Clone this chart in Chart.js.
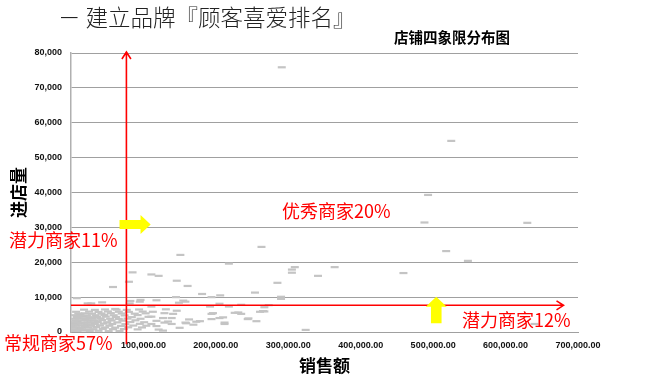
<!DOCTYPE html>
<html>
<head>
<meta charset="utf-8">
<script src="https://cdn.jsdelivr.net/npm/chart.js@4.4.0/dist/chart.umd.min.js"></script>
<style>
  html, body { margin: 0; padding: 0; background: #fff; }
  #wrap { width: 650px; height: 377px; position: relative; }
</style>
</head>
<body>
<div id="wrap"><canvas id="grafico" width="650" height="377"></canvas></div>
<script>
// 店铺 (销售额, 进店量) - sparse stores
const vendasEsparsas = [
  291000, 525000, 493000, 488000, 630000, 263000, 518000, 548000, 309000, 305000,
  305000, 364000, 341000, 285000, 459000, 254000, 290000, 290000, 640000, 273000,
  267000, 267000, 256000, 324000, 151000, 218000, 111000, 121000, 146000, 161000,
  181000, 194000, 206000, 145000, 118000, 155000, 149000, 205000, 235000, 218000,
  192000, 111000, 131000, 194000, 231000, 235000, 205000, 244000, 194000, 178000,
  158000, 169000, 212000, 127000, 85000, 80000, 58000, 8000, 23000, 43000,
  82000, 96000, 61000, 113000, 129000, 141000, 111000, 127000, 139000, 118000,
  134000, 111000, 129000, 139000, 118000, 158000, 95000, 81000, 196000, 210000,
  226000, 261000, 245000, 173000, 159000, 212000, 265000, 28000, 150000, 146000,
  163000, 121000
];
const visitasEsparsas = [
  75900, 54800, 39300, 31400, 31300, 24400, 23200, 20400, 18600, 17900,
  17000, 18600, 16100, 14100, 16900, 11300, 10100, 9500, 2300, 7700,
  7100, 5900, 3100, 600, 22100, 19600, 16500, 16100, 14700, 13200,
  10900, 10000, 10500, 10000, 9100, 9000, 8400, 8100, 7800, 7300,
  7300, 7300, 6500, 5200, 5600, 5200, 4000, 3700, 3700, 3100,
  2700, 2100, 2700, 400, 17100, 14400, 12900, 9700, 8200, 8500,
  8900, 9200, 6600, 5800, 5400, 5200, 4400, 4000, 4000, 3200,
  3000, 2300, 2700, 2300, 1700, 8700, 8700, 8200, 5400, 4200,
  5500, 5800, 3900, 2950, 2500, 2300, 6000, 8200, 1200, 6100,
  3600, 700
];

// dense cluster of small stores near the origin
const vendasCluster = [
  2000, 9000, 17000, 26000, 38000, 52000, 67000,
  4000, 12000, 21000, 31000, 44000, 58000, 73000, 92000,
  1000, 7000, 15000, 24000, 35000, 47000, 61000, 79000, 98000,
  3000, 11000, 19000, 28000, 40000, 53000, 69000, 86000, 104000,
  5000, 13000, 22000, 33000, 45000, 57000, 75000, 95000,
  2000, 9000, 18000, 27000, 37000, 50000, 64000, 82000, 101000,
  6000, 14000, 23000, 32000, 43000, 56000, 71000, 89000,
  3000, 11000, 20000, 30000, 41000, 54000, 66000, 78000, 96000,
  8000, 16000, 26000, 36000, 48000, 62000, 84000, 107000,
  4000, 13000, 22000, 34000, 46000, 59000, 74000, 92000,
  10000, 19000, 29000, 42000, 55000, 70000, 88000, 103000,
  7000, 25000, 38000, 51000, 66000, 80000, 99000,
  18000, 33000, 47000, 63000, 77000, 94000
];
const visitasCluster = [
  300, 250, 400, 300, 350, 250, 300,
  800, 850, 750, 800, 900, 800, 850, 750,
  1300, 1350, 1250, 1300, 1400, 1300, 1250, 1350, 1300,
  1800, 1850, 1750, 1800, 1900, 1800, 1750, 1850, 1800,
  2300, 2350, 2250, 2300, 2400, 2300, 2250, 2350,
  2800, 2850, 2750, 2800, 2900, 2800, 2750, 2850, 2800,
  3300, 3350, 3250, 3300, 3400, 3300, 3250, 3350,
  3800, 3850, 3750, 3800, 3900, 3800, 3750, 3850, 3800,
  4300, 4350, 4250, 4300, 4400, 4300, 4250, 4350,
  4800, 4850, 4750, 4800, 4900, 4800, 4750, 4850,
  5300, 5350, 5250, 5300, 5400, 5300, 5250, 5350,
  5800, 5850, 5750, 5900, 5800, 5750, 5850,
  6400, 6350, 6450, 6400, 6350, 6450
];

const ticksY = [0, 10000, 20000, 30000, 40000, 50000, 60000, 70000, 80000];
const ticksX = [0, 100000, 200000, 300000, 400000, 500000, 600000, 700000];

// 分界线 (线的位置用数值表示)
const linhaVendas = 76500;
const linhaVisitas = 7650;

const pontos = vendasEsparsas.map((v, i) => ({ x: v, y: visitasEsparsas[i] }))
  .concat(vendasCluster.map((v, i) => ({ x: v, y: visitasCluster[i] })));

const fonteCJK = '"Noto Sans CJK SC", "Noto Sans", sans-serif';
const fonteTicks = '"Liberation Sans", Arial, sans-serif';

const pluginQuadrantes = {
  id: 'quadrantes',
  afterDatasetsDraw(chart) {
    const c = chart.ctx;
    const sx = chart.scales.x, sy = chart.scales.y;
    const px = v => sx.getPixelForValue(v);
    const py = v => sy.getPixelForValue(v);
    c.save();

    // red lines with arrow heads
    c.strokeStyle = '#ff0000';
    c.lineWidth = 1.6;
    const xv = px(linhaVendas);
    const topo = py(80300);
    c.beginPath();
    c.moveTo(xv, py(-3500));
    c.lineTo(xv, topo);
    c.moveTo(xv - 4.5, topo + 7);
    c.lineTo(xv, topo);
    c.lineTo(xv + 4.5, topo + 7);
    c.stroke();

    const yv = py(linhaVisitas);
    const fim = px(680000);
    c.beginPath();
    c.moveTo(px(0), yv);
    c.lineTo(fim, yv);
    c.moveTo(fim - 7, yv - 4.5);
    c.lineTo(fim, yv);
    c.lineTo(fim - 7, yv + 4.5);
    c.stroke();

    // yellow arrows
    c.fillStyle = '#ffff00';
    const cy = py(30800);
    c.beginPath();
    c.moveTo(px(67000), cy - 4.5);
    c.lineTo(px(96000), cy - 4.5);
    c.lineTo(px(96000), cy - 9.5);
    c.lineTo(px(110000), cy);
    c.lineTo(px(96000), cy + 9.5);
    c.lineTo(px(96000), cy + 4.5);
    c.lineTo(px(67000), cy + 4.5);
    c.closePath();
    c.fill();

    const cx = px(504300);
    c.beginPath();
    c.moveTo(cx - 5.3, py(2500));
    c.lineTo(cx - 5.3, py(7250));
    c.lineTo(cx - 10.5, py(7250));
    c.lineTo(cx, py(10100));
    c.lineTo(cx + 10.5, py(7250));
    c.lineTo(cx + 5.3, py(7250));
    c.lineTo(cx + 5.3, py(2500));
    c.closePath();
    c.fill();

    // texts
    c.textBaseline = 'middle';
    c.fillStyle = '#222';
    c.font = '300 22.5px ' + fonteCJK;
    c.textAlign = 'left';
    c.fillText('－ 建立品牌『顾客喜爱排名』', 58, 17);

    c.fillStyle = '#000';
    c.font = 'bold 14.5px ' + fonteCJK;
    c.textAlign = 'right';
    c.fillText('店铺四象限分布图', 510, 37);

    c.fillStyle = '#ff0000';
    c.font = '18px ' + fonteCJK;
    c.textAlign = 'left';
    c.fillText('潜力商家11%', 9, 240);
    c.fillText('常规商家57%', 4, 343);
    c.fillText('优秀商家20%', 282, 211);
    c.fillText('潜力商家12%', 462, 320);
    c.restore();
  }
};

new Chart(document.getElementById('grafico').getContext('2d'), {
  type: 'scatter',
  data: {
    datasets: [{
      label: '店铺',
      data: pontos,
      pointStyle: 'line',
      pointRadius: 4,
      pointHoverRadius: 4,
      borderWidth: 2.2,
      borderColor: '#c4c4c4',
      backgroundColor: '#c4c4c4'
    }]
  },
  options: {
    responsive: false,
    animation: false,
    events: [],
    layout: { padding: { top: 53, right: 72, left: 0, bottom: 0 } },
    plugins: {
      legend: { display: false },
      tooltip: { enabled: false }
    },
    scales: {
      x: {
        type: 'linear',
        min: 0,
        max: 700000,
        afterFit: s => { s.height = 45; },
        afterBuildTicks: s => { s.ticks = ticksX.map(v => ({ value: v })); },
        grid: { display: false, drawTicks: false },
        border: { display: true, color: '#a0a0a0', width: 1 },
        ticks: {
          padding: 8,
          maxRotation: 0,
          autoSkip: false,
          color: '#111',
          font: { family: fonteTicks, size: 9, weight: 'bold' },
          callback: v => v === 0 ? '' : v.toLocaleString('en-US', { minimumFractionDigits: 2 })
        },
        title: {
          display: true,
          text: '销售额',
          color: '#000',
          font: { family: fonteCJK, size: 17, weight: 'bold' },
          padding: { top: 0, bottom: 1 }
        }
      },
      y: {
        type: 'linear',
        min: 0,
        max: 80000,
        afterFit: s => { s.width = 71; },
        afterBuildTicks: s => { s.ticks = ticksY.map(v => ({ value: v })); },
        grid: { color: '#a0a0a0', lineWidth: 1, drawTicks: false },
        border: { display: true, color: '#b0b0b0', width: 1.5 },
        ticks: {
          padding: 9,
          color: '#111',
          font: { family: fonteTicks, size: 9, weight: 'bold' },
          callback: v => v.toLocaleString('en-US')
        },
        title: {
          display: true,
          text: '进店量',
          color: '#000',
          font: { family: fonteCJK, size: 17, weight: 'bold' },
          padding: { top: 8, bottom: 0 }
        }
      }
    }
  },
  plugins: [pluginQuadrantes]
});
</script>
</body>
</html>
